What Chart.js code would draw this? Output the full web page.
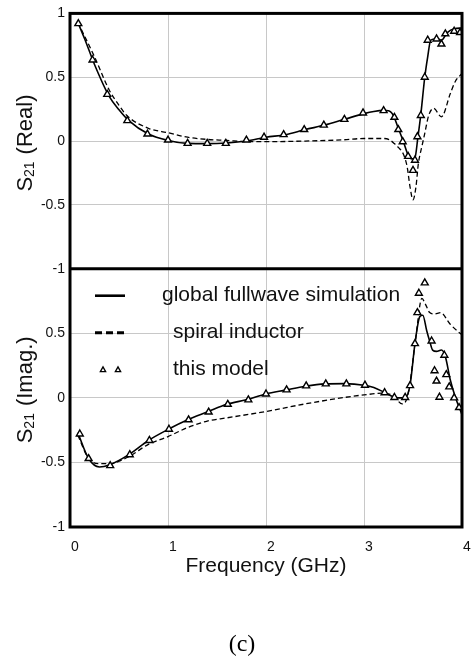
<!DOCTYPE html>
<html>
<head>
<meta charset="utf-8">
<title>S21 real / imaginary vs frequency</title>
<script src="https://cdn.jsdelivr.net/npm/chart.js@4.4.1/dist/chart.umd.min.js"></script>
<style>
  html, body { margin: 0; padding: 0; background: #fff; }
  canvas { display: block; }
</style>
</head>
<body>
<canvas id="s21Chart" width="474" height="661"></canvas>
<script>
// S21 real part (top panel)
var reFullFreq = [0.08, 0.15, 0.25, 0.4, 0.5, 0.6, 0.8, 1.0, 1.2, 1.4, 1.6, 1.8, 2.0, 2.2, 2.4, 2.6, 2.8, 3.0, 3.1, 3.2, 3.25, 3.3, 3.35, 3.4, 3.45, 3.49, 3.52, 3.55, 3.58, 3.62, 3.65, 3.68, 3.72, 3.76, 3.79, 3.85, 3.92, 4.0];
var reFull     = [0.93, 0.80, 0.60, 0.35, 0.245, 0.16, 0.055, 0.005, -0.018, -0.02, -0.015, 0.0, 0.03, 0.05, 0.09, 0.125, 0.17, 0.215, 0.232, 0.24, 0.238, 0.20, 0.10, 0.0, -0.11, -0.14, -0.13, 0.03, 0.21, 0.50, 0.66, 0.79, 0.80, 0.80, 0.79, 0.85, 0.88, 0.885];

var reSpiralFreq = [0.08, 0.15, 0.25, 0.4, 0.5, 0.58, 0.8, 1.0, 1.2, 1.4, 1.6, 1.8, 2.0, 2.4, 2.8, 3.0, 3.2, 3.26, 3.31, 3.35, 3.4, 3.44, 3.47, 3.5, 3.53, 3.555, 3.59, 3.62, 3.66, 3.71, 3.79, 3.88, 3.93, 4.0];
var reSpiral     = [0.93, 0.82, 0.66, 0.40, 0.28, 0.20, 0.10, 0.065, 0.03, 0.013, 0.005, -0.005, -0.005, 0.0, 0.01, 0.02, 0.02, 0.01, -0.02, -0.05, -0.10, -0.20, -0.36, -0.46, -0.36, -0.175, -0.045, 0.06, 0.20, 0.256, 0.19, 0.37, 0.465, 0.53];

var reModelFreq = [0.085, 0.23, 0.38, 0.585, 0.79, 1.0, 1.2, 1.4, 1.59, 1.8, 1.98, 2.18, 2.39, 2.59, 2.8, 2.99, 3.2, 3.31, 3.35, 3.395, 3.45, 3.5, 3.52, 3.545, 3.58, 3.62, 3.65, 3.74, 3.79, 3.83, 3.92, 3.98];
var reModel     = [0.92, 0.635, 0.366, 0.16, 0.055, 0.008, -0.018, -0.018, -0.018, 0.008, 0.03, 0.05, 0.09, 0.125, 0.17, 0.22, 0.238, 0.186, 0.09, -0.005, -0.12, -0.23, -0.15, 0.034, 0.20, 0.50, 0.79, 0.80, 0.76, 0.84, 0.86, 0.85];

// S21 imaginary part (bottom panel)
var imFullFreq = [0.08, 0.19, 0.3, 0.4, 0.6, 0.8, 1.0, 1.2, 1.4, 1.6, 1.8, 2.0, 2.2, 2.4, 2.6, 2.8, 3.0, 3.1, 3.2, 3.3, 3.35, 3.42, 3.47, 3.52, 3.57, 3.6, 3.64, 3.67, 3.7, 3.74, 3.79, 3.83, 3.88, 3.93, 4.0];
var imFull     = [-0.27, -0.47, -0.535, -0.52, -0.44, -0.33, -0.245, -0.17, -0.11, -0.05, -0.015, 0.03, 0.06, 0.09, 0.108, 0.11, 0.098, 0.08, 0.045, 0.008, 0.0, 0.0, 0.10, 0.42, 0.63, 0.64, 0.52, 0.44, 0.37, 0.36, 0.37, 0.32, 0.14, 0.01, -0.13];

var imSpiralFreq = [0.08, 0.19, 0.3, 0.4, 0.6, 0.8, 1.0, 1.2, 1.4, 1.6, 2.0, 2.4, 2.8, 3.0, 3.2, 3.3, 3.39, 3.44, 3.47, 3.53, 3.59, 3.63, 3.67, 3.72, 3.78, 3.88, 3.98, 4.0];
var imSpiral     = [-0.29, -0.47, -0.51, -0.51, -0.455, -0.36, -0.30, -0.23, -0.18, -0.155, -0.106, -0.047, 0.003, 0.023, 0.036, 0.015, -0.047, 0.0, 0.12, 0.475, 0.77, 0.72, 0.66, 0.65, 0.66, 0.57, 0.50, 0.49];

var imModelFreq = [0.1, 0.19, 0.41, 0.61, 0.81, 1.01, 1.21, 1.415, 1.61, 1.82, 2.0, 2.21, 2.41, 2.61, 2.82, 3.01, 3.21, 3.31, 3.42, 3.47, 3.52, 3.545, 3.56, 3.62, 3.69, 3.72, 3.74, 3.77, 3.82, 3.84, 3.87, 3.92, 3.97];
var imModel     = [-0.28, -0.47, -0.525, -0.44, -0.33, -0.243, -0.17, -0.11, -0.05, -0.016, 0.03, 0.062, 0.093, 0.108, 0.108, 0.098, 0.04, 0.003, 0.003, 0.095, 0.42, 0.66, 0.81, 0.89, 0.44, 0.21, 0.13, 0.005, 0.33, 0.18, 0.085, 0.0, -0.075];

var seriesNames = ['global fullwave simulation', 'spiral inductor', 'this model'];
var panelTitles = ['(Real)', '(Imag.)'];
var freqTicks = [0, 1, 2, 3, 4];

var sansFont = '"Liberation Sans", Arial, Helvetica, sans-serif';

function pairUp(xs, ys) {
    return xs.map(function (x, i) { return { x: x, y: ys[i] }; });
}

function fullLine(data, axis) {
    return { data: data, yAxisID: axis, borderColor: '#000', borderWidth: 1.6, pointRadius: 0,
             cubicInterpolationMode: 'monotone', order: 1 };
}
function spiralLine(data, axis) {
    return { data: data, yAxisID: axis, borderColor: '#000', borderWidth: 1.3, borderDash: [5, 3],
             pointRadius: 0, cubicInterpolationMode: 'monotone', order: 2 };
}
function modelPoints(data, axis) {
    return { data: data, yAxisID: axis, showLine: false, pointStyle: 'triangle', pointRadius: 4,
             pointBorderWidth: 1.4, borderColor: '#000', backgroundColor: '#fff', order: 0 };
}

// S with a small "21" below the baseline, then the panel name
function drawS21(ctx, cx, cy, label) {
    var big = '22px ' + sansFont, small = '14px ' + sansFont;
    ctx.font = big;
    var wS = ctx.measureText('S').width;
    var wLabel = ctx.measureText(label).width;
    ctx.font = small;
    var w21 = ctx.measureText('21').width;
    var gap = 7;
    var total = wS + w21 + gap + wLabel;
    ctx.save();
    ctx.translate(cx, cy);
    ctx.rotate(-Math.PI / 2);
    ctx.fillStyle = '#111';
    ctx.textBaseline = 'alphabetic';
    ctx.textAlign = 'left';
    var x = -total / 2;
    ctx.font = big;
    ctx.fillText('S', x, 0);
    x += wS;
    ctx.font = small;
    ctx.fillText('21', x, 2);
    x += w21 + gap;
    ctx.font = big;
    ctx.fillText(label, x, 0);
    ctx.restore();
}

var panelDecor = {
    id: 'panelDecor',
    afterDatasetsDraw: function (chart) {
        var ctx = chart.ctx, area = chart.chartArea;
        var split = chart.scales.yIm.top;

        // legend inside the lower panel
        var lx = area.left;
        var rows = [split + 27, split + 64, split + 101];
        ctx.save();
        ctx.strokeStyle = '#000';
        ctx.lineWidth = 2.6;
        ctx.beginPath();
        ctx.moveTo(lx + 25, rows[0]); ctx.lineTo(lx + 55, rows[0]);
        ctx.stroke();
        ctx.setLineDash([7, 4]);
        ctx.lineWidth = 3;
        ctx.beginPath();
        ctx.moveTo(lx + 25, rows[1]); ctx.lineTo(lx + 55, rows[1]);
        ctx.stroke();
        ctx.setLineDash([]);
        ctx.lineWidth = 1.3;
        [lx + 33, lx + 48].forEach(function (tx) {
            var r = 2.8;
            ctx.beginPath();
            ctx.moveTo(tx, rows[2] - r);
            ctx.lineTo(tx + r * 0.95, rows[2] + r * 0.7);
            ctx.lineTo(tx - r * 0.95, rows[2] + r * 0.7);
            ctx.closePath();
            ctx.stroke();
        });
        ctx.fillStyle = '#111';
        ctx.font = '21px ' + sansFont;
        ctx.textBaseline = 'middle';
        ctx.textAlign = 'left';
        ctx.fillText(seriesNames[0], lx + 92, rows[0]);
        ctx.fillText(seriesNames[1], lx + 103, rows[1]);
        ctx.fillText(seriesNames[2], lx + 103, rows[2]);
        ctx.restore();
    },
    afterDraw: function (chart) {
        var ctx = chart.ctx, area = chart.chartArea;
        var top = chart.scales.yRe, bot = chart.scales.yIm;
        ctx.save();
        // heavy frames round both panels
        ctx.strokeStyle = '#000';
        ctx.lineWidth = 3;
        ctx.strokeRect(area.left, area.top, area.right - area.left, area.bottom - area.top);
        ctx.beginPath();
        ctx.moveTo(area.left, bot.top);
        ctx.lineTo(area.right, bot.top);
        ctx.stroke();
        ctx.restore();

        drawS21(ctx, 32, (top.top + top.bottom) / 2 + 2, panelTitles[0]);
        drawS21(ctx, 32, (bot.top + bot.bottom) / 2 - 8, panelTitles[1]);

        ctx.save();
        ctx.fillStyle = '#000';
        ctx.font = '24px "Liberation Serif", "Times New Roman", serif';
        ctx.textAlign = 'center';
        ctx.textBaseline = 'middle';
        ctx.fillText('(c)', 242, 645);
        ctx.restore();
    }
};

var yTicks = {
    color: '#111',
    font: { family: sansFont, size: 14 },
    padding: 5,
    stepSize: 0.5
};

new Chart(document.getElementById('s21Chart'), {
    type: 'line',
    data: {
        datasets: [
            fullLine(pairUp(reFullFreq, reFull), 'yRe'),
            spiralLine(pairUp(reSpiralFreq, reSpiral), 'yRe'),
            modelPoints(pairUp(reModelFreq, reModel), 'yRe'),
            fullLine(pairUp(imFullFreq, imFull), 'yIm'),
            spiralLine(pairUp(imSpiralFreq, imSpiral), 'yIm'),
            modelPoints(pairUp(imModelFreq, imModel), 'yIm')
        ]
    },
    options: {
        responsive: false,
        animation: false,
        devicePixelRatio: 1,
        layout: { padding: { left: 0, right: 12, top: 13, bottom: 0 } },
        plugins: { legend: { display: false }, tooltip: { enabled: false } },
        scales: {
            x: {
                type: 'linear',
                min: freqTicks[0],
                max: freqTicks[freqTicks.length - 1],
                afterBuildTicks: function (scale) {
                    scale.ticks = freqTicks.map(function (v) { return { value: v }; });
                },
                afterFit: function (scale) { scale.height = 134; },
                // invisible tick marks push the labels down without widening the side padding
                grid: { color: '#c8c8c8', lineWidth: 1, drawTicks: true, tickLength: 12, tickColor: 'rgba(0,0,0,0)' },
                border: { display: false },
                ticks: {
                    color: '#111',
                    font: { family: sansFont, size: 14 },
                    padding: 0,
                    labelOffset: 5,
                    maxRotation: 0
                },
                title: {
                    display: true,
                    text: 'Frequency (GHz)',
                    color: '#111',
                    font: { family: sansFont, size: 21 },
                    padding: { top: 0, bottom: 82 }
                }
            },
            // listed first so it sits below yRe in the left stack
            yIm: {
                type: 'linear',
                position: 'left',
                stack: 'panels',
                stackWeight: 258.5,
                min: -1,
                max: 1,
                afterFit: function (scale) { scale.width = 70; },
                grid: { color: '#c8c8c8', lineWidth: 1, drawTicks: false },
                border: { display: false },
                ticks: Object.assign({}, yTicks, {
                    callback: function (v) { return v === 1 ? '' : String(v); }
                })
            },
            yRe: {
                type: 'linear',
                position: 'left',
                stack: 'panels',
                stackWeight: 255.5,
                min: -1,
                max: 1,
                afterFit: function (scale) { scale.width = 70; },
                grid: { color: '#c8c8c8', lineWidth: 1, drawTicks: false },
                border: { display: false },
                ticks: Object.assign({}, yTicks, {
                    callback: function (v) { return String(v); }
                })
            }
        }
    },
    plugins: [panelDecor]
});
</script>
</body>
</html>
